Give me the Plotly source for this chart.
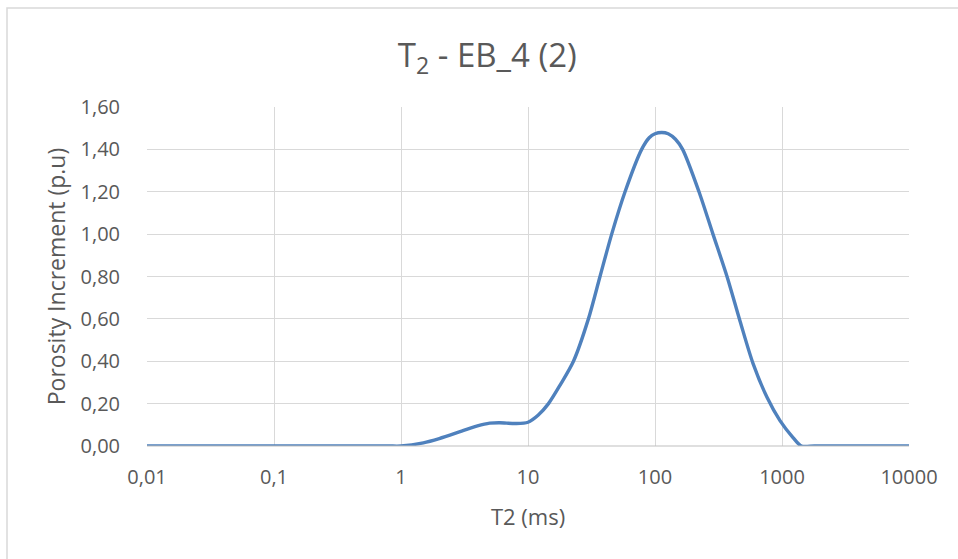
import plotly.graph_objects as go

t2_ms = [0.01, 0.1, 0.5, 0.8, 1, 1.5, 2, 3, 4, 5, 6, 8, 10, 12, 14.5, 18, 22.8, 29.9, 36.9, 45.6, 58.1,
         78.5, 90, 100, 113, 127, 145, 165, 222, 286, 369, 467, 591, 762, 964, 1221, 1420, 1800, 3000, 10000]
porosity_inc = [0, 0, 0, 0, 0, 0.015, 0.035, 0.07, 0.095, 0.108, 0.11, 0.106, 0.112, 0.145, 0.20, 0.29,
                0.40, 0.60, 0.80, 1.00, 1.20, 1.40, 1.455, 1.474, 1.48, 1.474, 1.448, 1.40, 1.20, 1.00, 0.80,
                0.59, 0.39, 0.23, 0.12, 0.04, 0.0, 0, 0, 0]

x_tickvals = [0.01, 0.1, 1, 10, 100, 1000, 10000]
x_ticktext = ["0,01", "0,1", "1", "10", "100", "1000", "10000"]

fig = go.Figure()
fig.add_trace(go.Scatter(
    x=t2_ms, y=porosity_inc, mode="lines",
    line=dict(color="#4F81BD", width=3.4, shape="spline", smoothing=0.8),
    showlegend=False, hoverinfo="x+y",
))

font_fam = "Open Sans, Liberation Sans, sans-serif"
fig.update_layout(
    width=958, height=559,
    margin=dict(l=147, r=49, t=107, b=113),
    paper_bgcolor="white", plot_bgcolor="white",
    separators=",.",
    font=dict(family=font_fam, color="#595959", size=20),
    title=dict(text="T<sub>2</sub> - EB_4 (2)", x=0.5087, xanchor="center", y=0.9, yanchor="middle",
               font=dict(size=33, color="#595959", family=font_fam)),
    xaxis=dict(
        type="log", range=[-2, 4], tickvals=x_tickvals, ticktext=x_ticktext,
        showgrid=True, gridcolor="#d9d9d9", gridwidth=1,
        showline=False, zeroline=False, ticks="outside", ticklen=13, tickcolor="rgba(0,0,0,0)",
        tickfont=dict(size=20, color="#595959"),
        title=dict(text="T2 (ms)", font=dict(size=22, color="#595959"), standoff=20),
    ),
    yaxis=dict(
        range=[0, 1.6], dtick=0.2, tick0=0, tickformat=".2f",
        showgrid=True, gridcolor="#d9d9d9", gridwidth=1,
        showline=False, zeroline=False, ticks="outside", ticklen=22, tickcolor="rgba(0,0,0,0)",
        tickfont=dict(size=20, color="#595959"),
        title=dict(text="Porosity Increment (p.u)", font=dict(size=23, color="#595959"), standoff=8),
    ),
    shapes=[
        dict(type="line", xref="paper", yref="paper", x0=0, x1=1, y0=0, y1=0,
             line=dict(color="#bfbfbf", width=1)),
        dict(type="rect", xref="paper", yref="paper", x0=(7 - 147) / 762, x1=1.2,
             y0=-0.5, y1=(446 - 8) / 339, line=dict(color="#d9d9d9", width=1.5), layer="below"),
    ],
)

fig.write_html("out.html")
